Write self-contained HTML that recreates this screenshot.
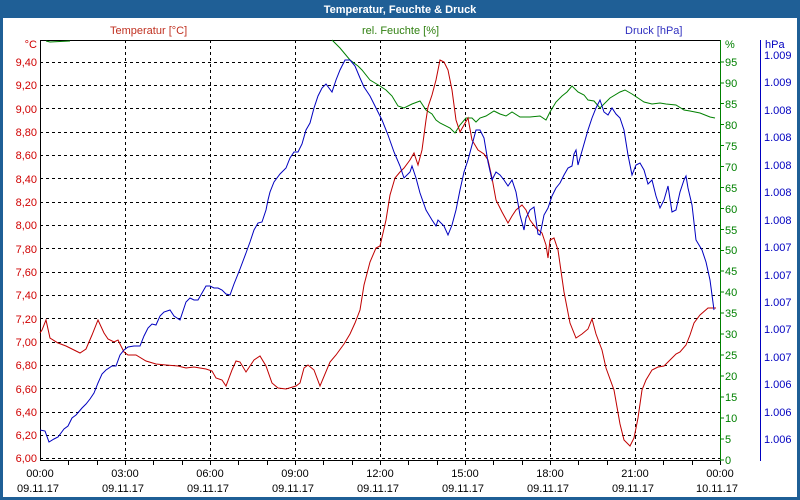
<!DOCTYPE html>
<html><head><meta charset="utf-8"><style>
body{margin:0;background:#fff}
svg{display:block;font-family:"Liberation Sans",sans-serif;font-size:11px}
</style></head><body>
<svg width="800" height="500" viewBox="0 0 800 500">
<rect x="0" y="0" width="800" height="500" fill="#1f5f96"/>
<rect x="3" y="18" width="794" height="479" fill="#fff"/>
<text x="400" y="13" fill="#fff" font-weight="bold" text-anchor="middle">Temperatur, Feuchte &amp; Druck</text>
<text x="110" y="34" fill="#c03020">Temperatur [°C]</text>
<text x="362" y="34" fill="#308010">rel. Feuchte [%]</text>
<text x="625" y="34" fill="#3030c0">Druck [hPa]</text>
<g stroke="#000" stroke-dasharray="3,3" stroke-width="1">
<line x1="40" x2="720" y1="458.5" y2="458.5"/>
<line x1="40" x2="720" y1="435.5" y2="435.5"/>
<line x1="40" x2="720" y1="412.5" y2="412.5"/>
<line x1="40" x2="720" y1="388.5" y2="388.5"/>
<line x1="40" x2="720" y1="365.5" y2="365.5"/>
<line x1="40" x2="720" y1="342.5" y2="342.5"/>
<line x1="40" x2="720" y1="318.5" y2="318.5"/>
<line x1="40" x2="720" y1="295.5" y2="295.5"/>
<line x1="40" x2="720" y1="272.5" y2="272.5"/>
<line x1="40" x2="720" y1="248.5" y2="248.5"/>
<line x1="40" x2="720" y1="225.5" y2="225.5"/>
<line x1="40" x2="720" y1="202.5" y2="202.5"/>
<line x1="40" x2="720" y1="178.5" y2="178.5"/>
<line x1="40" x2="720" y1="155.5" y2="155.5"/>
<line x1="40" x2="720" y1="132.5" y2="132.5"/>
<line x1="40" x2="720" y1="108.5" y2="108.5"/>
<line x1="40" x2="720" y1="85.5" y2="85.5"/>
<line x1="40" x2="720" y1="62.5" y2="62.5"/>
<line x1="125.5" x2="125.5" y1="40" y2="460"/>
<line x1="210.5" x2="210.5" y1="40" y2="460"/>
<line x1="295.5" x2="295.5" y1="40" y2="460"/>
<line x1="380.5" x2="380.5" y1="40" y2="460"/>
<line x1="465.5" x2="465.5" y1="40" y2="460"/>
<line x1="550.5" x2="550.5" y1="40" y2="460"/>
<line x1="635.5" x2="635.5" y1="40" y2="460"/>
</g>
<line x1="40" x2="720" y1="40.5" y2="40.5" stroke="#000"/>
<line x1="40" x2="720" y1="460.5" y2="460.5" stroke="#000"/>
<line x1="40.5" x2="40.5" y1="40" y2="461" stroke="#000"/>
<g stroke="#000">
<line x1="68.5" x2="68.5" y1="460" y2="465"/><line x1="97.5" x2="97.5" y1="460" y2="465"/><line x1="125.5" x2="125.5" y1="460" y2="465"/>
<line x1="153.5" x2="153.5" y1="460" y2="465"/><line x1="182.5" x2="182.5" y1="460" y2="465"/><line x1="210.5" x2="210.5" y1="460" y2="465"/>
<line x1="238.5" x2="238.5" y1="460" y2="465"/><line x1="267.5" x2="267.5" y1="460" y2="465"/><line x1="295.5" x2="295.5" y1="460" y2="465"/>
<line x1="323.5" x2="323.5" y1="460" y2="465"/><line x1="352.5" x2="352.5" y1="460" y2="465"/><line x1="380.5" x2="380.5" y1="460" y2="465"/>
<line x1="408.5" x2="408.5" y1="460" y2="465"/><line x1="437.5" x2="437.5" y1="460" y2="465"/><line x1="465.5" x2="465.5" y1="460" y2="465"/>
<line x1="493.5" x2="493.5" y1="460" y2="465"/><line x1="522.5" x2="522.5" y1="460" y2="465"/><line x1="550.5" x2="550.5" y1="460" y2="465"/>
<line x1="578.5" x2="578.5" y1="460" y2="465"/><line x1="607.5" x2="607.5" y1="460" y2="465"/><line x1="635.5" x2="635.5" y1="460" y2="465"/>
<line x1="663.5" x2="663.5" y1="460" y2="465"/><line x1="692.5" x2="692.5" y1="460" y2="465"/><line x1="720.5" x2="720.5" y1="460" y2="465"/>
</g>
<line x1="720.5" x2="720.5" y1="40" y2="461" stroke="#008000"/>
<g stroke="#008000">
<line x1="720" x2="724" y1="460" y2="460"/><line x1="720" x2="724" y1="439" y2="439"/><line x1="720" x2="724" y1="418" y2="418"/><line x1="720" x2="724" y1="397" y2="397"/><line x1="720" x2="724" y1="376" y2="376"/><line x1="720" x2="724" y1="355" y2="355"/><line x1="720" x2="724" y1="334" y2="334"/><line x1="720" x2="724" y1="313" y2="313"/><line x1="720" x2="724" y1="292" y2="292"/><line x1="720" x2="724" y1="271" y2="271"/><line x1="720" x2="724" y1="250.5" y2="250.5"/><line x1="720" x2="724" y1="229.5" y2="229.5"/><line x1="720" x2="724" y1="208.5" y2="208.5"/><line x1="720" x2="724" y1="187.5" y2="187.5"/><line x1="720" x2="724" y1="166.5" y2="166.5"/><line x1="720" x2="724" y1="145.5" y2="145.5"/><line x1="720" x2="724" y1="124.5" y2="124.5"/><line x1="720" x2="724" y1="103.5" y2="103.5"/><line x1="720" x2="724" y1="83" y2="83"/><line x1="720" x2="724" y1="62" y2="62"/>
</g>
<line x1="760.5" x2="760.5" y1="40" y2="461" stroke="#0000c0"/>
<g fill="#d00000" text-anchor="end">
<text x="37" y="48">°C</text>
<text x="37" y="66">9,40</text><text x="37" y="89">9,20</text><text x="37" y="113">9,00</text><text x="37" y="136">8,80</text><text x="37" y="159">8,60</text><text x="37" y="183">8,40</text><text x="37" y="206">8,20</text><text x="37" y="229">8,00</text><text x="37" y="253">7,80</text><text x="37" y="276">7,60</text><text x="37" y="299">7,40</text><text x="37" y="323">7,20</text><text x="37" y="346">7,00</text><text x="37" y="369">6,80</text><text x="37" y="393">6,60</text><text x="37" y="416">6,40</text><text x="37" y="439">6,20</text><text x="37" y="462">6,00</text>
</g>
<g fill="#008000">
<text x="725" y="48">%</text>
<text x="725" y="66">95</text><text x="725" y="87">90</text><text x="725" y="108">85</text><text x="725" y="129">80</text><text x="725" y="150">75</text><text x="725" y="171">70</text><text x="725" y="192">65</text><text x="725" y="213">60</text><text x="725" y="234">55</text><text x="725" y="254">50</text><text x="725" y="275">45</text><text x="725" y="296">40</text><text x="725" y="317">35</text><text x="725" y="338">30</text><text x="725" y="359">25</text><text x="725" y="380">20</text><text x="725" y="401">15</text><text x="725" y="422">10</text><text x="725" y="443">5</text><text x="725" y="464">0</text>
</g>
<g fill="#0000c0">
<text x="765" y="48">hPa</text>
<text x="764" y="59">1.009</text><text x="764" y="86">1.009</text><text x="764" y="114">1.008</text><text x="764" y="141">1.008</text><text x="764" y="169">1.008</text><text x="764" y="196">1.008</text><text x="764" y="224">1.008</text><text x="764" y="251">1.007</text><text x="764" y="279">1.007</text><text x="764" y="306">1.007</text><text x="764" y="333">1.007</text><text x="764" y="361">1.007</text><text x="764" y="388">1.006</text><text x="764" y="416">1.006</text><text x="764" y="443">1.006</text>
</g>
<g fill="#000" text-anchor="middle">
<text x="40" y="477">00:00</text><text x="125" y="477">03:00</text><text x="210" y="477">06:00</text><text x="295" y="477">09:00</text><text x="380" y="477">12:00</text><text x="465" y="477">15:00</text><text x="550" y="477">18:00</text><text x="635" y="477">21:00</text><text x="720" y="477">00:00</text>
<text x="38" y="492">09.11.17</text><text x="123" y="492">09.11.17</text><text x="208" y="492">09.11.17</text><text x="293" y="492">09.11.17</text><text x="378" y="492">09.11.17</text><text x="463" y="492">09.11.17</text><text x="548" y="492">09.11.17</text><text x="633" y="492">09.11.17</text><text x="717" y="492">10.11.17</text>
</g>
<g fill="none" stroke-width="1">
<polyline stroke="#008000" points="46,41 50,42 70,41"/>
<polyline stroke="#008000" points="332,40 340,48 350,60 358,66 362,70 370,80 380,86 386,90 392,96 398,106 404,108 412,104 420,101 426,110 432,114 436,120 440,123 450,128 455,133 460,125 466,118 472,118 476,122 480,118 486,116 494,111 500,114 506,116 512,112 520,117 530,117 540,116 546,120 550,112 556,102 562,96 567,92 572,86 578,92 584,95 588,100 594,101 600,108 610,98 620,92 625,90 632,94 638,98 644,102 652,104 660,103 666,104 676,105 684,110 690,111 700,113 710,117 715,118"/>
<polyline stroke="#c00000" points="40,333 42,330 46,320 50,338 58,343 66,346 74,350 80,353 86,349 92,335 98,320 104,333 108,339 114,342 118,340 124,352 128,355 136,355 146,361 156,364 166,365 178,366 186,368 194,367 206,369 212,371 216,378 222,380 226,386 232,370 236,361 240,362 246,372 254,360 260,356 266,366 272,383 278,388 286,389 296,386 300,383 304,368 308,365 314,370 320,386 330,362 336,355 344,344 350,334 355,323 360,310 364,285 370,262 376,248 380,246 386,220 390,195 395,178 400,172 404,168 410,160 414,153 418,165 422,150 426,120 428,107 432,95 436,80 440,60 444,62 448,70 452,90 456,120 460,132 464,125 468,118 472,140 478,150 484,154 488,160 492,178 496,200 502,212 508,223 512,216 516,210 522,205 526,210 530,220 536,228 542,233 546,245 548,258 550,240 554,238 558,250 564,292 570,323 576,338 582,334 588,329 592,319 596,334 602,350 606,368 614,390 620,424 624,440 630,446 634,438 638,418 642,390 646,380 652,370 658,367 664,366 668,362 676,354 680,352 686,345 690,335 694,323 700,315 708,308 716,308"/>
<polyline stroke="#0000c0" points="40,430 45,431 49,442 54,439 58,437 64,429 68,426 72,418 76,415 82,408 86,404 90,399 94,393 98,383 102,374 106,370 112,366 116,366 120,355 124,350 128,347 134,346 140,346 144,336 148,328 152,324 156,325 160,316 164,312 170,310 174,316 180,320 186,302 190,298 194,300 198,300 202,293 206,286 210,286 214,288 218,288 222,290 226,294 230,295 234,284 240,269 246,253 250,242 254,230 258,223 262,222 266,210 268,200 270,192 274,182 280,174 286,168 290,158 294,152 298,152 302,144 306,130 310,123 314,108 318,96 322,88 326,84 332,92 336,80 340,70 345,60 350,60 355,66 360,78 364,87 370,96 376,108 382,120 388,135 394,152 400,166 404,178 410,172 412,166 416,178 420,193 426,210 432,220 436,226 438,220 444,226 448,235 452,225 456,210 460,190 464,172 468,160 472,145 476,130 480,130 484,138 488,162 492,180 496,172 500,175 504,180 508,186 512,180 516,192 520,215 524,230 526,218 530,210 534,207 538,234 540,235 544,215 548,208 552,196 556,188 560,183 564,175 568,168 572,166 574,154 576,150 578,165 580,158 584,144 588,130 592,118 596,108 600,100 604,112 608,115 612,108 616,114 620,118 624,130 628,155 632,175 636,165 640,163 644,170 648,184 652,180 656,196 660,208 664,200 668,186 672,212 676,210 680,192 684,180 686,176 688,188 692,205 696,240 702,250 706,262 710,280 714,310"/>
</g>
</svg>
</body></html>
